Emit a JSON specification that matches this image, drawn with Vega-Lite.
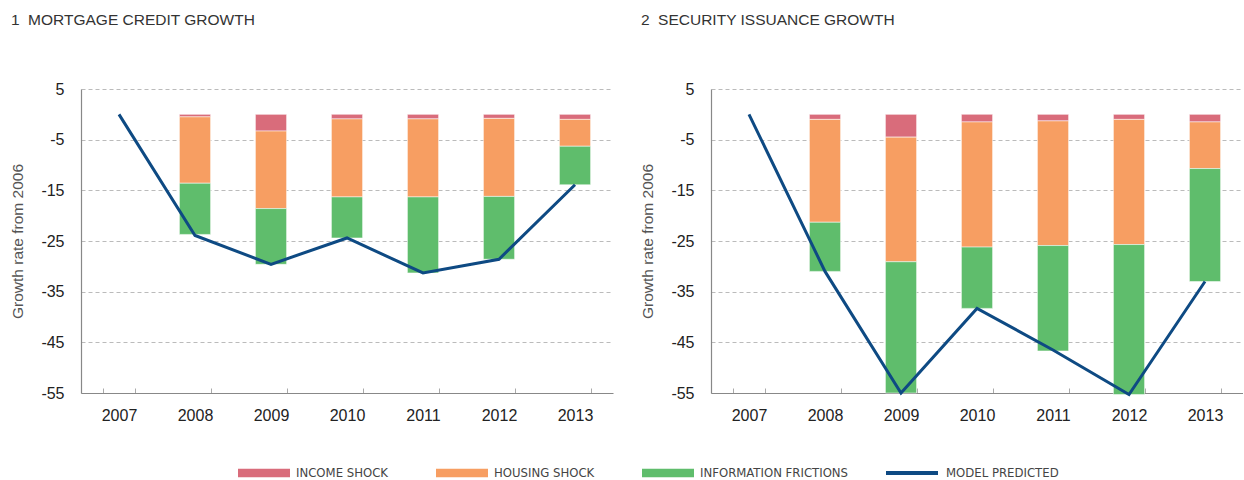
{
  "$schema": "https://vega.github.io/schema/vega-lite/v6.json",
  "background": "white",
  "padding": {"left": 10, "top": 12, "right": 0, "bottom": 0},
  "datasets": {
    "bars": [
      {"panel": 1, "year": "2008", "component": "INCOME SHOCK", "value": -0.5},
      {"panel": 1, "year": "2008", "component": "HOUSING SHOCK", "value": -13.1},
      {"panel": 1, "year": "2008", "component": "INFORMATION FRICTIONS", "value": -10.1},
      {"panel": 1, "year": "2009", "component": "INCOME SHOCK", "value": -3.3},
      {"panel": 1, "year": "2009", "component": "HOUSING SHOCK", "value": -15.3},
      {"panel": 1, "year": "2009", "component": "INFORMATION FRICTIONS", "value": -11.0},
      {"panel": 1, "year": "2010", "component": "INCOME SHOCK", "value": -0.9},
      {"panel": 1, "year": "2010", "component": "HOUSING SHOCK", "value": -15.4},
      {"panel": 1, "year": "2010", "component": "INFORMATION FRICTIONS", "value": -8.1},
      {"panel": 1, "year": "2011", "component": "INCOME SHOCK", "value": -0.9},
      {"panel": 1, "year": "2011", "component": "HOUSING SHOCK", "value": -15.4},
      {"panel": 1, "year": "2011", "component": "INFORMATION FRICTIONS", "value": -15.0},
      {"panel": 1, "year": "2012", "component": "INCOME SHOCK", "value": -0.8},
      {"panel": 1, "year": "2012", "component": "HOUSING SHOCK", "value": -15.4},
      {"panel": 1, "year": "2012", "component": "INFORMATION FRICTIONS", "value": -12.4},
      {"panel": 1, "year": "2013", "component": "INCOME SHOCK", "value": -1.0},
      {"panel": 1, "year": "2013", "component": "HOUSING SHOCK", "value": -5.3},
      {"panel": 1, "year": "2013", "component": "INFORMATION FRICTIONS", "value": -7.6},
      {"panel": 2, "year": "2008", "component": "INCOME SHOCK", "value": -1.0},
      {"panel": 2, "year": "2008", "component": "HOUSING SHOCK", "value": -20.3},
      {"panel": 2, "year": "2008", "component": "INFORMATION FRICTIONS", "value": -9.7},
      {"panel": 2, "year": "2009", "component": "INCOME SHOCK", "value": -4.5},
      {"panel": 2, "year": "2009", "component": "HOUSING SHOCK", "value": -24.6},
      {"panel": 2, "year": "2009", "component": "INFORMATION FRICTIONS", "value": -25.9},
      {"panel": 2, "year": "2010", "component": "INCOME SHOCK", "value": -1.5},
      {"panel": 2, "year": "2010", "component": "HOUSING SHOCK", "value": -24.7},
      {"panel": 2, "year": "2010", "component": "INFORMATION FRICTIONS", "value": -12.1},
      {"panel": 2, "year": "2011", "component": "INCOME SHOCK", "value": -1.3},
      {"panel": 2, "year": "2011", "component": "HOUSING SHOCK", "value": -24.6},
      {"panel": 2, "year": "2011", "component": "INFORMATION FRICTIONS", "value": -20.8},
      {"panel": 2, "year": "2012", "component": "INCOME SHOCK", "value": -1.0},
      {"panel": 2, "year": "2012", "component": "HOUSING SHOCK", "value": -24.7},
      {"panel": 2, "year": "2012", "component": "INFORMATION FRICTIONS", "value": -29.6},
      {"panel": 2, "year": "2013", "component": "INCOME SHOCK", "value": -1.5},
      {"panel": 2, "year": "2013", "component": "HOUSING SHOCK", "value": -9.2},
      {"panel": 2, "year": "2013", "component": "INFORMATION FRICTIONS", "value": -22.3}
    ],
    "line": [
      {"panel": 1, "year": "2007", "series": "MODEL PREDICTED", "value": 0},
      {"panel": 1, "year": "2008", "series": "MODEL PREDICTED", "value": -23.9},
      {"panel": 1, "year": "2009", "series": "MODEL PREDICTED", "value": -29.6},
      {"panel": 1, "year": "2010", "series": "MODEL PREDICTED", "value": -24.4},
      {"panel": 1, "year": "2011", "series": "MODEL PREDICTED", "value": -31.3},
      {"panel": 1, "year": "2012", "series": "MODEL PREDICTED", "value": -28.6},
      {"panel": 1, "year": "2013", "series": "MODEL PREDICTED", "value": -13.9},
      {"panel": 2, "year": "2007", "series": "MODEL PREDICTED", "value": 0},
      {"panel": 2, "year": "2008", "series": "MODEL PREDICTED", "value": -31.0},
      {"panel": 2, "year": "2009", "series": "MODEL PREDICTED", "value": -55.0},
      {"panel": 2, "year": "2010", "series": "MODEL PREDICTED", "value": -38.3},
      {"panel": 2, "year": "2011", "series": "MODEL PREDICTED", "value": -46.5},
      {"panel": 2, "year": "2012", "series": "MODEL PREDICTED", "value": -55.3},
      {"panel": 2, "year": "2013", "series": "MODEL PREDICTED", "value": -33.0}
    ]
  },
  "config": {
    "font": "Liberation Sans",
    "view": {"stroke": null},
    "axis": {
      "labelFont": "Liberation Sans",
      "labelFontSize": 16,
      "labelColor": "#222222",
      "domainColor": "#888888",
      "domainWidth": 1.2,
      "tickColor": "#aaaaaa",
      "gridColor": "#bbbbbb",
      "gridDash": [4, 3],
      "gridWidth": 1
    },
    "title": {
      "anchor": "start",
      "frame": "bounds",
      "font": "Liberation Sans",
      "fontSize": 15.5,
      "fontWeight": "normal",
      "color": "#333333",
      "offset": 53
    },
    "legend": {
      "labelFont": "DejaVu Sans Condensed",
      "labelFontSize": 13,
      "labelColor": "#444444",
      "labelLimit": 300
    }
  },
  "spacing": 27,
  "resolve": {
    "scale": {"color": "shared", "stroke": "shared"},
    "legend": {"color": "shared", "stroke": "shared"}
  },
  "hconcat": [
    {
      "title": {"text": "1\u00a0 MORTGAGE CREDIT GROWTH"},
      "width": 532,
      "height": 304,
      "layer": [
        {
          "data": {"name": "bars"},
          "transform": [
            {"filter": "datum.panel == 1"},
            {"calculate": "indexof(['INCOME SHOCK','HOUSING SHOCK','INFORMATION FRICTIONS'], datum.component)", "as": "stackorder"}
          ],
          "mark": {"type": "bar", "stroke": "#ffffff", "strokeWidth": 1, "strokeOpacity": 0.5},
          "encoding": {
            "x": {
              "field": "year", "type": "ordinal",
              "scale": {"domain": ["2007", "2008", "2009", "2010", "2011", "2012", "2013"], "paddingInner": 0.59, "paddingOuter": 0.295},
              "axis": {"title": null, "labelAngle": 0, "tickBand": "extent", "tickSize": -5, "labelPadding": 19, "grid": false}
            },
            "y": {
              "field": "value", "type": "quantitative", "stack": "zero",
              "scale": {"domain": [-55, 5], "nice": false, "zero": false},
              "axis": {"title": "Growth rate from 2006", "titleFont": "Liberation Sans", "titleFontSize": 15.5, "titleFontWeight": "normal", "titleColor": "#555555", "titlePadding": 15, "values": [5, -5, -15, -25, -35, -45, -55], "labelExpr": "'' + datum.value", "ticks": false, "labelPadding": 17, "grid": true}
            },
            "color": {
              "field": "component", "type": "nominal",
              "scale": {"domain": ["INCOME SHOCK", "HOUSING SHOCK", "INFORMATION FRICTIONS"], "range": ["#d96c7b", "#f79e62", "#5fbd6c"]},
              "legend": {"title": null, "orient": "none", "direction": "horizontal", "legendX": 157, "legendY": 358, "symbolType": "M-1,-0.16H1V0.16H-1Z", "symbolSize": 2704, "symbolStrokeWidth": 0, "labelOffset": 6, "columnPadding": 47}
            },
            "order": {"field": "stackorder", "type": "quantitative", "sort": "ascending"}
          }
        },
        {
          "data": {"name": "line"},
          "transform": [{"filter": "datum.panel == 1"}],
          "mark": {"type": "line", "strokeWidth": 3},
          "encoding": {
            "x": {"field": "year", "type": "ordinal"},
            "y": {"field": "value", "type": "quantitative"},
            "stroke": {
              "field": "series", "type": "nominal",
              "scale": {"domain": ["MODEL PREDICTED"], "range": ["#0e4a83"]},
              "legend": {"title": null, "orient": "none", "legendX": 803, "legendY": 356, "symbolType": "stroke", "symbolSize": 2704, "symbolStrokeWidth": 4, "labelOffset": 6}
            }
          }
        }
      ]
    },
    {
      "title": {"text": "2\u00a0 SECURITY ISSUANCE GROWTH"},
      "width": 532,
      "height": 304,
      "layer": [
        {
          "data": {"name": "bars"},
          "transform": [
            {"filter": "datum.panel == 2"},
            {"calculate": "indexof(['INCOME SHOCK','HOUSING SHOCK','INFORMATION FRICTIONS'], datum.component)", "as": "stackorder"}
          ],
          "mark": {"type": "bar", "stroke": "#ffffff", "strokeWidth": 1, "strokeOpacity": 0.5},
          "encoding": {
            "x": {
              "field": "year", "type": "ordinal",
              "scale": {"domain": ["2007", "2008", "2009", "2010", "2011", "2012", "2013"], "paddingInner": 0.59, "paddingOuter": 0.295},
              "axis": {"title": null, "labelAngle": 0, "tickBand": "extent", "tickSize": -5, "labelPadding": 19, "grid": false}
            },
            "y": {
              "field": "value", "type": "quantitative", "stack": "zero",
              "scale": {"domain": [-55, 5], "nice": false, "zero": false},
              "axis": {"title": "Growth rate from 2006", "titleFont": "Liberation Sans", "titleFontSize": 15.5, "titleFontWeight": "normal", "titleColor": "#555555", "titlePadding": 15, "values": [5, -5, -15, -25, -35, -45, -55], "labelExpr": "'' + datum.value", "ticks": false, "labelPadding": 17, "grid": true}
            },
            "color": {"field": "component", "type": "nominal"},
            "order": {"field": "stackorder", "type": "quantitative", "sort": "ascending"}
          }
        },
        {
          "data": {"name": "line"},
          "transform": [{"filter": "datum.panel == 2"}],
          "mark": {"type": "line", "strokeWidth": 3},
          "encoding": {
            "x": {"field": "year", "type": "ordinal"},
            "y": {"field": "value", "type": "quantitative"},
            "stroke": {"field": "series", "type": "nominal"}
          }
        }
      ]
    }
  ]
}
